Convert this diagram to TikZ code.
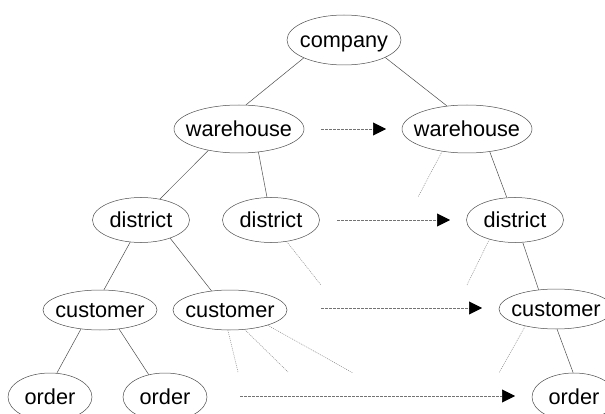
\documentclass[tikz,border=0pt]{standalone}
\usepackage{fontspec}
\setmainfont{Liberation Sans}
\usetikzlibrary{shapes.geometric,arrows.meta}
\newcommand\ctext[1]{\makebox[0pt]{#1}}
\tikzset{
  entity/.style={ellipse, draw=black!70, line width=0.5pt, inner sep=0pt,
    font=\fontsize{21.7}{26}\selectfont, text height=15pt, text depth=0pt},
  whs/.style={entity, minimum width=130pt, minimum height=48pt},
  dst/.style={entity, minimum width=97pt, minimum height=45pt},
  cst/.style={entity, minimum width=114pt, minimum height=40pt},
  ord/.style={entity, minimum width=84pt, minimum height=48pt},
  cmp/.style={entity, minimum width=114pt, minimum height=50pt},
  link/.style={draw=black!70, line width=0.5pt},
  hint/.style={draw=black!45, line width=0.5pt, dash pattern=on 1pt off 1pt},
  move/.style={draw=black!55, line width=0.6pt, dash pattern=on 3pt off 1pt,
    -{Triangle[length=13pt,width=13pt,color=black]}}
}
\begin{document}
\begin{tikzpicture}[x=1pt,y=-1pt]
\clip (0,0) rectangle (605,414);

% left tree
\node[cmp] (company) at (344,40) {\ctext{company}};
\node[whs] (wh1) at (239,129) {\ctext{warehouse}};
\node[dst] (d1)  at (141,220) {\ctext{district}};
\node[dst] (d2)  at (271,220) {\ctext{district}};
\node[cst] (c1)  at (100,310) {\ctext{customer}};
\node[cst] (c2)  at (230,310) {\ctext{customer}};
\node[ord] (o1)  at (50,397)  {\ctext{order}};
\node[ord] (o2)  at (165,397) {\ctext{order}};

% right branch
\node[whs] (wh2) at (467,129) {\ctext{warehouse}};
\node[dst] (d3)  at (515,220) {\ctext{district}};
\node[cst] (c3)  at (556,309) {\ctext{customer}};
\node[ord] (o3)  at (574,397) {\ctext{order}};

% tree edges
\draw[link] (company.204) -- (wh1.74);
\draw[link] (company.337) -- (wh2.131);
\draw[link] (wh1.215) -- (d1.48);
\draw[link] (wh1.310) -- (d2.100);
\draw[link] (wh2.315) -- (d3.110);
\draw[link] (d1.244) -- (c1.79);
\draw[link] (d1.328) -- (c2.134);
\draw[link] (d3.289) -- (c3.132);
\draw[link] (c1.225) -- (o1.74);
\draw[link] (c1.315) -- (o2.126);
\draw[link] (c3.273) -- (o3.92);

% elided siblings
\coordinate (wh2x) at (418,197);
\coordinate (d2x)  at (321,285);
\coordinate (d3x)  at (467,285);
\coordinate (c2x1) at (238,372);
\coordinate (c2x2) at (288,372);
\coordinate (c2x3) at (353,373);
\coordinate (c3x)  at (499,373);
\draw[hint] (wh2.222) -- (wh2x);
\draw[hint] (d2.306) -- (d2x);
\draw[hint] (d3.217) -- (d3x);
\draw[hint] (c2.264) -- (c2x1);
\draw[hint] (c2.307) -- (c2x2);
\draw[hint] (c2.338) -- (c2x3);
\draw[hint] (c3.209) -- (c3x);

% level-by-level moves
\coordinate (m1a) at (321,129); \coordinate (m1b) at (386,129);
\coordinate (m2a) at (337,220); \coordinate (m2b) at (450,220);
\coordinate (m3a) at (321,308); \coordinate (m3b) at (482,308);
\coordinate (m4a) at (240,396); \coordinate (m4b) at (515,396);
\draw[move] (m1a) -- (m1b);
\draw[move] (m2a) -- (m2b);
\draw[move] (m3a) -- (m3b);
\draw[move] (m4a) -- (m4b);
\end{tikzpicture}
\end{document}
